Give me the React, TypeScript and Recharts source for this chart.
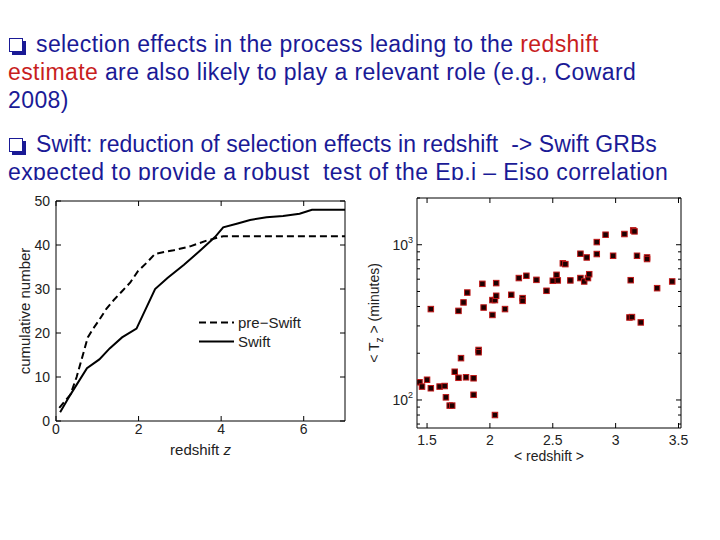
import React from "react"
import {
  LineChart,
  Line,
  XAxis,
  YAxis,
  Legend,
  ReferenceArea,
  Label,
  ScatterChart,
  Scatter,
} from "recharts"

const FONT = '"Liberation Sans", Arial, sans-serif'
const BLUE = "#1a1a96"
const RED = "#c81e1e"
const INK = "#222"

// left panel: cumulative number vs redshift
const preSwiftZ = [0.08, 0.35, 0.5, 0.62, 0.77, 0.9, 1.05, 1.22, 1.4, 1.6, 1.8, 1.98, 2.2, 2.4, 2.85, 3.25, 3.65, 4.05, 7]
const preSwiftCount = [3, 6, 10, 14, 19, 21, 23, 25.5, 27.5, 29.5, 31.5, 34, 36, 38, 38.8, 39.7, 41, 42, 42]
const swiftZ = [0.1, 0.35, 0.75, 1.05, 1.3, 1.6, 1.95, 2.4, 2.7, 3.1, 3.5, 3.85, 4.05, 4.4, 4.7, 5.1, 5.5, 5.9, 6.2, 7]
const swiftCount = [2, 6, 12, 14, 16.5, 19, 21, 30, 32.5, 35.5, 38.8, 41.8, 44, 44.9, 45.7, 46.3, 46.6, 47.1, 48, 48]
const seriesNames = ["pre\u2212Swift", "Swift"]
const zTicks = [0, 2, 4, 6]
const countTicks = [0, 10, 20, 30, 40, 50]

// right panel: <Tz> vs <redshift>
const avgRedshift = [
  1.44, 1.46, 1.5, 1.53, 1.53, 1.6, 1.64, 1.65, 1.68, 1.7, 1.72, 1.75, 1.75, 1.77, 1.79, 1.81, 1.82,
  1.87, 1.87, 1.91, 1.91, 1.94, 1.95, 2.02, 2.02, 2.04, 2.05, 2.05, 2.04, 2.12, 2.17, 2.23, 2.26,
  2.26, 2.29, 2.37, 2.45, 2.5, 2.53, 2.54, 2.58, 2.6, 2.64, 2.72, 2.72, 2.75, 2.77, 2.78, 2.79,
  2.85, 2.85, 2.92, 2.98, 3.07, 3.12, 3.11, 3.13, 3.14, 3.15, 3.17, 3.2, 3.25, 3.25, 3.33, 3.45,
]
const avgTz = [
  130, 122, 135, 119, 385, 122, 123, 104, 92, 92, 152, 139, 375, 186, 425, 140, 492,
  138, 108, 210, 203, 560, 394, 353, 440, 440, 566, 469, 80, 385, 476, 610, 453,
  435, 631, 594, 505, 586, 640, 589, 759, 750, 589, 875, 610, 580, 828, 610, 646,
  1040, 871, 1160, 849, 1172, 591, 340, 342, 1237, 1219, 849, 316, 828, 809, 525, 580,
]
const redshiftTicks = [1.5, 2, 2.5, 3, 3.5]
const tzTicks = [70, 80, 90, 100, 200, 300, 400, 500, 600, 700, 800, 900, 1000, 2000]
const tzMajor = [100, 1000]

const preSwiftData = preSwiftZ.map((z, i) => ({ z, n: preSwiftCount[i] }))
const swiftData = swiftZ.map((z, i) => ({ z, n: swiftCount[i] }))
const tzData = avgRedshift.map((r, i) => ({ r, t: avgTz[i] }))

// left chart geometry
const L_W = 360
const L_H = 280
const L_MARGIN = { top: 11, right: 15, bottom: 0, left: 0 }
const L_YW = 56
const L_XH = 49
const L_PW = L_W - L_MARGIN.left - L_MARGIN.right - L_YW
const L_PH = L_H - L_MARGIN.top - L_MARGIN.bottom - L_XH

// right chart geometry
const R_W = 360
const R_H = 290
const R_MARGIN = { top: 13, right: 39, bottom: 0, left: 0 }
const R_YW = 57
const R_XH = 47
const R_PW = R_W - R_MARGIN.left - R_MARGIN.right - R_YW
const R_PH = R_H - R_MARGIN.top - R_MARGIN.bottom - R_XH

const makeXTick = (plotH: number, fontSize: number, dy: number) => (props: any) => {
  const { x, y, payload } = props
  return (
    <g>
      <line x1={x} y1={y} x2={x} y2={y - 5} stroke="#000" />
      <line x1={x} y1={y - plotH} x2={x} y2={y - plotH + 5} stroke="#000" />
      <text x={x} y={y + dy} textAnchor="middle" fontSize={fontSize} fill={INK} fontFamily={FONT}>
        {payload.value}
      </text>
    </g>
  )
}

const CountTick = (props: any) => {
  const { x, y, payload } = props
  return (
    <g>
      <line x1={x} y1={y} x2={x + 5} y2={y} stroke="#000" />
      <line x1={x + L_PW} y1={y} x2={x + L_PW - 5} y2={y} stroke="#000" />
      <text x={x - 6} y={y + 5} textAnchor="end" fontSize={14} fill={INK} fontFamily={FONT}>
        {payload.value}
      </text>
    </g>
  )
}

const TzTick = (props: any) => {
  const { x, y, payload } = props
  const major = tzMajor.includes(payload.value)
  const len = major ? 5 : 3
  return (
    <g>
      <line x1={x} y1={y} x2={x + len} y2={y} stroke="#000" />
      <line x1={x + R_PW} y1={y} x2={x + R_PW - len} y2={y} stroke="#000" />
      {major && (
        <text x={x - 4} y={y + 5} textAnchor="end" fontSize={14} fill={INK} fontFamily={FONT}>
          10
          <tspan dy={-7} fontSize={9}>
            {Math.round(Math.log10(payload.value))}
          </tspan>
        </text>
      )}
    </g>
  )
}

const renderLegend = (props: any) => {
  const items = [...(props.payload || [])].sort(
    (a: any, b: any) => seriesNames.indexOf(a.value) - seriesNames.indexOf(b.value)
  )
  return (
    <div>
      {items.map((entry: any) => (
        <div key={entry.value} style={{ display: "flex", alignItems: "center", height: 19 }}>
          <svg width={36} height={19}>
            <line
              x1={0}
              y1={9.5}
              x2={35}
              y2={9.5}
              stroke={entry.color}
              strokeWidth={2}
              strokeDasharray={entry.payload?.strokeDasharray}
            />
          </svg>
          <span style={{ marginLeft: 3, fontSize: 15, color: INK, fontFamily: FONT }}>{entry.value}</span>
        </div>
      ))}
    </div>
  )
}

const Bullet = () => (
  <span
    style={{
      display: "inline-block",
      width: 12,
      height: 12,
      border: `1.7px solid ${BLUE}`,
      boxShadow: `3px 3px 0 ${BLUE}`,
      marginRight: 13,
      marginLeft: 1,
    }}
  />
)

const lineStyle: React.CSSProperties = { whiteSpace: "pre", height: 28 }

export default function App() {
  return (
    <div
      style={{
        position: "absolute",
        left: 0,
        top: 0,
        width: 720,
        height: 540,
        background: "#fff",
        overflow: "hidden",
        fontFamily: FONT,
      }}
    >
      <div style={{ position: "absolute", left: 8, top: 30, fontSize: 23, lineHeight: "28px", letterSpacing: 0.4, color: BLUE }}>
        <div style={lineStyle}>
          <Bullet />
          selection effects in the process leading to the <span style={{ color: RED }}>redshift</span>
        </div>
        <div style={lineStyle}>
          <span style={{ color: RED }}>estimate</span> are also likely to play a relevant role (e.g., Coward
        </div>
        <div style={lineStyle}>2008)</div>
      </div>

      <div
        style={{
          position: "absolute",
          left: 8,
          top: 130,
          height: 50,
          overflow: "hidden",
          fontSize: 23,
          lineHeight: "28px",
          color: BLUE,
        }}
      >
        <div style={{ ...lineStyle, letterSpacing: 0.05 }}>
          <Bullet />
          {"Swift: reduction of selection effects in redshift  -> Swift GRBs"}
        </div>
        <div style={{ ...lineStyle, letterSpacing: 0.4 }}>
          {"expected to provide a robust  test of the Ep,i \u2013 Eiso correlation"}
        </div>
      </div>

      <div style={{ position: "absolute", left: 0, top: 190 }}>
        <LineChart width={L_W} height={L_H} margin={L_MARGIN}>
          <XAxis
            type="number"
            dataKey="z"
            domain={[0, 7]}
            ticks={zTicks}
            interval={0}
            tickSize={0}
            tickMargin={0}
            axisLine={false}
            tickLine={false}
            height={L_XH}
            tick={makeXTick(L_PH, 14, 13)}
          >
            <Label
              content={(p: any) => (
                <text
                  x={p.viewBox.x + p.viewBox.width / 2}
                  y={p.viewBox.y + 34}
                  textAnchor="middle"
                  fontSize={15}
                  fill={INK}
                  fontFamily={FONT}
                >
                  redshift <tspan fontStyle="italic">z</tspan>
                </text>
              )}
            />
          </XAxis>
          <YAxis
            type="number"
            domain={[0, 50]}
            ticks={countTicks}
            interval={0}
            tickSize={0}
            tickMargin={0}
            axisLine={false}
            tickLine={false}
            width={L_YW}
            tick={CountTick}
          >
            <Label
              content={(p: any) => {
                const cx = p.viewBox.x + 30
                const cy = p.viewBox.y + p.viewBox.height / 2
                return (
                  <text
                    x={cx}
                    y={cy}
                    transform={`rotate(-90 ${cx} ${cy})`}
                    textAnchor="middle"
                    fontSize={15}
                    fill={INK}
                    fontFamily={FONT}
                  >
                    cumulative number
                  </text>
                )
              }}
            />
          </YAxis>
          <ReferenceArea x1={0} x2={7} y1={0} y2={50} fill="none" stroke="#000" strokeWidth={1} />
          <Legend
            layout="vertical"
            align="center"
            verticalAlign="middle"
            content={renderLegend}
            wrapperStyle={{ left: 199, top: 123, width: 120 }}
          />
          <Line
            data={preSwiftData}
            dataKey="n"
            name={seriesNames[0]}
            type="linear"
            stroke="#000"
            strokeWidth={2}
            strokeDasharray="7 4"
            dot={false}
            isAnimationActive={false}
          />
          <Line
            data={swiftData}
            dataKey="n"
            name={seriesNames[1]}
            type="linear"
            stroke="#000"
            strokeWidth={2}
            dot={false}
            isAnimationActive={false}
          />
        </LineChart>
      </div>

      <div style={{ position: "absolute", left: 360, top: 185 }}>
        <ScatterChart width={R_W} height={R_H} margin={R_MARGIN}>
          <XAxis
            type="number"
            dataKey="r"
            domain={[1.42, 3.52]}
            allowDataOverflow
            ticks={redshiftTicks}
            interval={0}
            tickSize={0}
            tickMargin={0}
            axisLine={false}
            tickLine={false}
            height={R_XH}
            tick={makeXTick(R_PH, 14, 17)}
          >
            <Label
              content={(p: any) => (
                <text
                  x={p.viewBox.x + p.viewBox.width / 2}
                  y={p.viewBox.y + 33}
                  textAnchor="middle"
                  fontSize={14}
                  fill={INK}
                  fontFamily={FONT}
                >
                  {"< redshift >"}
                </text>
              )}
            />
          </XAxis>
          <YAxis
            type="number"
            dataKey="t"
            scale="log"
            domain={[66, 2000]}
            allowDataOverflow
            ticks={tzTicks}
            interval={0}
            tickSize={0}
            tickMargin={0}
            axisLine={false}
            tickLine={false}
            width={R_YW}
            tick={TzTick}
          >
            <Label
              content={(p: any) => {
                const cx = p.viewBox.x + 19
                const cy = p.viewBox.y + p.viewBox.height / 2
                return (
                  <text
                    x={cx}
                    y={cy}
                    transform={`rotate(-90 ${cx} ${cy})`}
                    textAnchor="middle"
                    fontSize={14}
                    fill={INK}
                    fontFamily={FONT}
                  >
                    {"< T"}
                    <tspan dy={4} fontSize={10}>
                      z
                    </tspan>
                    <tspan dy={-4}>{" > (minutes)"}</tspan>
                  </text>
                )
              }}
            />
          </YAxis>
          <ReferenceArea x1={1.42} x2={3.52} y1={66} y2={2000} fill="none" stroke="#000" strokeWidth={1} />
          <Scatter
            data={tzData}
            isAnimationActive={false}
            shape={(p: any) => (
              <rect
                x={p.cx - 2.75}
                y={p.cy - 2.75}
                width={5.5}
                height={5.5}
                fill="#1e0000"
                stroke="#c01818"
                strokeWidth={1}
              />
            )}
          />
        </ScatterChart>
      </div>
    </div>
  )
}
